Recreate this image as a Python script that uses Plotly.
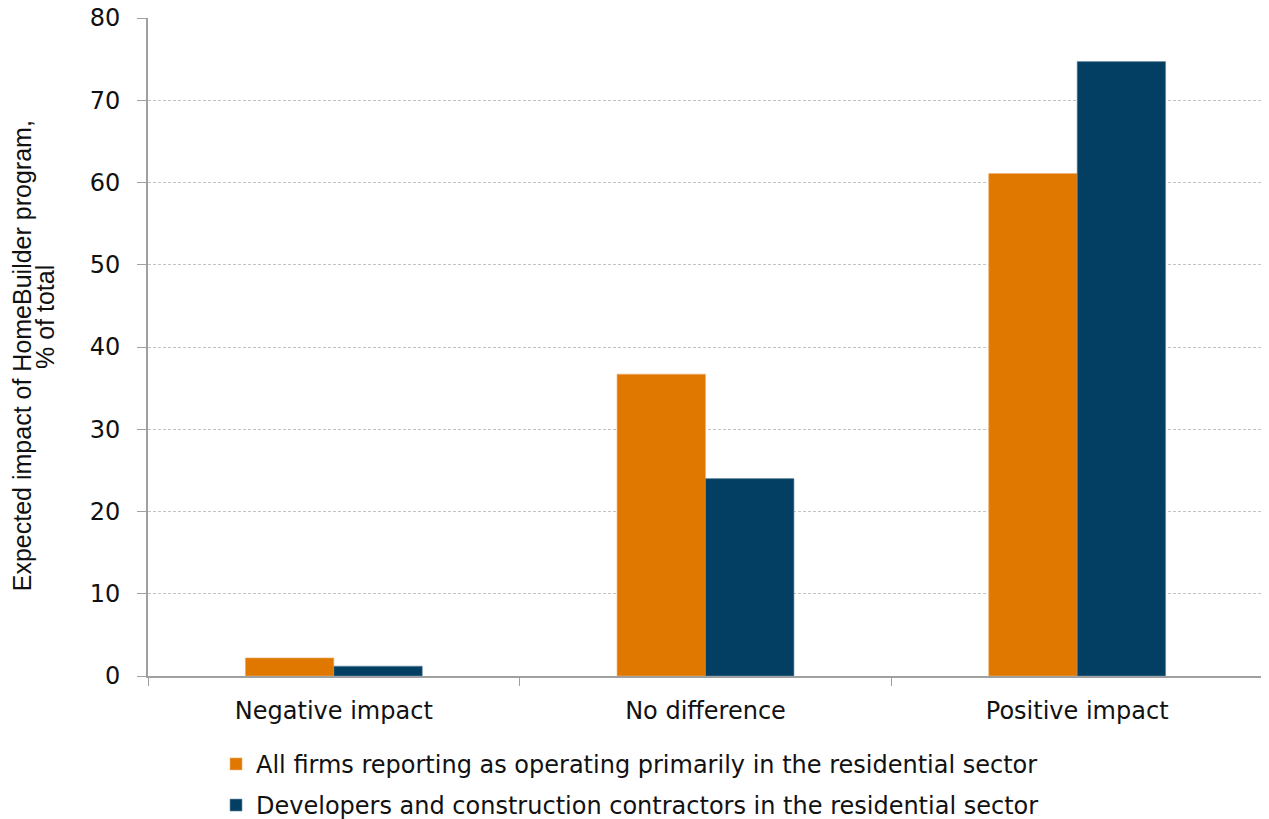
import plotly.graph_objects as go

# ---------------------------------------------
# Data
# ---------------------------------------------

categories = ["Negative impact", "No difference", "Positive impact"]

all_firms = [2.2, 36.7, 61.1]
developers = [1.2, 24.0, 74.7]

series_names = [
    "All firms reporting as operating primarily in the residential sector",
    "Developers and construction contractors in the residential sector",
]

y_ticks = [0, 10, 20, 30, 40, 50, 60, 70, 80]

y_title_lines = ["Expected impact of HomeBuilder program,", "% of total"]

ORANGE = "#E07800"
NAVY = "#023F62"
AXIS = "#A0A0A0"
TICK_FONT = "DejaVu Sans, Verdana, sans-serif"
TITLE_FONT = "Liberation Sans, Arial, sans-serif"

# ---------------------------------------------
# Figure
# ---------------------------------------------

fig = go.Figure()

fig.add_trace(
    go.Bar(
        x=categories,
        y=all_firms,
        name=series_names[0],
        legendgroup="a",
        marker=dict(color=ORANGE, line=dict(color="#F0B070", width=0.6)),
    )
)

fig.add_trace(
    go.Bar(
        x=categories,
        y=developers,
        name=series_names[1],
        legendgroup="b",
        marker=dict(color=NAVY, line=dict(color="#6E8FA5", width=0.6)),
    )
)

# Y-axis title, two lines placed separately (tight line spacing)

fig.add_annotation(
    text=y_title_lines[0],
    xref="paper", yref="paper",
    x=-0.113, y=0.486,
    xanchor="center", yanchor="middle",
    textangle=-90,
    showarrow=False,
    font=dict(family=TITLE_FONT, size=25, color="#111111"),
)

fig.add_annotation(
    text=y_title_lines[1],
    xref="paper", yref="paper",
    x=-0.0924, y=0.5456,
    xanchor="center", yanchor="middle",
    textangle=-90,
    showarrow=False,
    font=dict(family=TITLE_FONT, size=25, color="#111111"),
)

# ---------------------------------------------
# Layout
# ---------------------------------------------

fig.update_layout(
    width=1261,
    height=811,
    barmode="group",
    bargap=0.524,
    bargroupgap=0,
    paper_bgcolor="white",
    plot_bgcolor="white",
    font=dict(family=TICK_FONT, color="#111111", size=24),
    margin=dict(l=140, r=6, t=10, b=143, autoexpand=False),
    showlegend=True,
    legend=dict(
        orientation="v",
        x=0.061,
        xanchor="left",
        y=-0.1,
        yanchor="top",
        font=dict(family=TICK_FONT, size=24, color="#111111"),
        traceorder="grouped",
        tracegroupgap=7,
        itemwidth=30,
    ),
    yaxis=dict(
        range=[0, 80],
        tickvals=y_ticks,
        automargin=False,
        ticklabeloverflow="allow",
        showgrid=True,
        gridcolor="#C4C4C4",
        griddash="3px,2px",
        gridwidth=1,
        showline=True,
        linecolor=AXIS,
        linewidth=2,
        ticks="outside",
        ticklen=9,
        tickcolor=AXIS,
        tickwidth=1,
        ticklabelstandoff=12,
        tickfont=dict(family=TICK_FONT, size=24, color="#111111"),
        zeroline=False,
    ),
    xaxis=dict(
        automargin=False,
        showline=True,
        linecolor=AXIS,
        linewidth=2,
        ticks="outside",
        tickson="boundaries",
        ticklen=8,
        tickcolor=AXIS,
        tickwidth=1,
        ticklabelstandoff=12,
        tickfont=dict(family=TICK_FONT, size=24, color="#111111"),
        showgrid=False,
    ),
)

fig.write_html("out.html")
